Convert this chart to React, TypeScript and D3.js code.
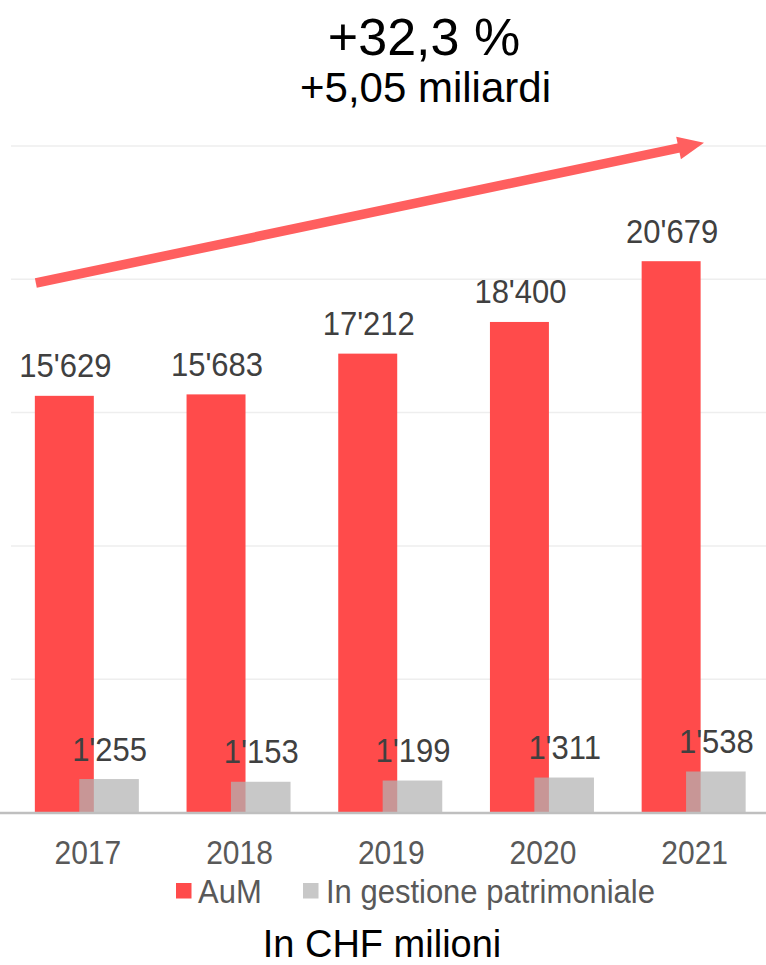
import React from "react";
import * as d3 from "d3";

const years = ["2017", "2018", "2019", "2020", "2021"];
const aum = [15629, 15683, 17212, 18400, 20679];
const gestione = [1255, 1153, 1199, 1311, 1538];
const gridTicks = [0, 5000, 10000, 15000, 20000, 25000];
const seriesNames = ["AuM", "In gestione patrimoniale"];
const titleMain = "+32,3 %";
const titleSub = "+5,05 miliardi";
const footer = "In CHF milioni";

const W = 766;
const H = 965;
const RED = "#ff4b4b";
const GRAY = "#b3b3b3";
const FONT = "'Liberation Sans', Arial, sans-serif";

const locale = d3.formatLocale({ thousands: "'", grouping: [3], decimal: ",", currency: ["", ""] });
const fmt = locale.format(",d");

export default function App() {
  const p = 0.3144;
  const x = d3.scaleBand<string>().domain(years).range([11, 769.5]).paddingInner(p).paddingOuter(p / 2);
  const y = d3.scaleLinear().domain([0, 25000]).range([812.5, 146]);
  const bw = x.bandwidth();
  const redW = bw * 0.567;
  const grayOff = bw * 0.427;
  const grayW = bw * 0.573;

  // arrow geometry
  const x0 = (x(years[0]) as number) + 1;
  const x1 = 704;
  const ay0 = 283;
  const ay1 = 142.7;
  const ang = Math.atan2(ay1 - ay0, x1 - x0);
  const headLen = 26;
  const headHalf = 11.5;
  const bx = x1 - headLen * Math.cos(ang);
  const by = ay1 - headLen * Math.sin(ang);
  const nx = -Math.sin(ang);
  const ny = Math.cos(ang);
  const head = [
    [x1, ay1],
    [bx + nx * headHalf, by + ny * headHalf],
    [bx - nx * headHalf, by - ny * headHalf],
  ];

  return (
    <svg
      width={W}
      height={H}
      style={{ position: "absolute", left: 0, top: 0, display: "block", background: "#fff" }}
      fontFamily={FONT}
    >
      {gridTicks.slice(1).map((t) => (
        <line key={t} x1={11} x2={W} y1={y(t)} y2={y(t)} stroke="#eeeeee" strokeWidth={1.5} />
      ))}

      {years.map((yr, i) => (
        <rect key={"r" + yr} x={x(yr)} y={y(aum[i])} width={redW} height={y(0) - y(aum[i])} fill={RED} />
      ))}
      {years.map((yr, i) => (
        <rect
          key={"g" + yr}
          x={(x(yr) as number) + grayOff}
          y={y(gestione[i])}
          width={grayW}
          height={y(0) - y(gestione[i])}
          fill={GRAY}
          fillOpacity={0.72}
        />
      ))}

      <line x1={0} x2={W} y1={y(0) + 0.5} y2={y(0) + 0.5} stroke="#bfbfbf" strokeWidth={2.5} />

      {years.map((yr, i) => (
        <text
          key={"lr" + yr}
          transform={`translate(${(x(yr) as number) + redW / 2 + 1},${y(aum[i]) - 18.5}) scale(1,1.05)`}
          textAnchor="middle"
          fontSize={31}
          fill="#404040"
        >
          {fmt(aum[i])}
        </text>
      ))}
      {years.map((yr, i) => (
        <text
          key={"lg" + yr}
          transform={`translate(${(x(yr) as number) + grayOff + grayW / 2 + 0.5},${y(gestione[i]) - 18.5}) scale(1,1.05)`}
          textAnchor="middle"
          fontSize={31}
          fill="#404040"
        >
          {fmt(gestione[i])}
        </text>
      ))}

      {years.map((yr) => (
        <text
          key={"y" + yr}
          transform={`translate(${(x(yr) as number) + bw / 2 + 1},864) scale(1,1.08)`}
          textAnchor="middle"
          fontSize={30}
          fill="#595959"
        >
          {yr}
        </text>
      ))}

      <line x1={x0} y1={ay0} x2={bx + 2 * Math.cos(ang)} y2={by + 2 * Math.sin(ang)} stroke="#ff5f5f" strokeWidth={9.5} />
      <polygon points={head.map((d) => d.join(",")).join(" ")} fill="#ff5f5f" />

      <text x={424} y={55} textAnchor="middle" fontSize={52} fill="#000">
        {titleMain}
      </text>
      <text x={425.5} y={102} textAnchor="middle" fontSize={42} fill="#000">
        {titleSub}
      </text>

      <rect x={176} y={883} width={15.5} height={15.5} fill={RED} />
      <text transform="translate(198,903) scale(1,1.05)" fontSize={31} fill="#595959">
        {seriesNames[0]}
      </text>
      <rect x={303} y={883} width={15.5} height={15.5} fill="#c8c8c8" />
      <text transform="translate(326,903) scale(1,1.05)" fontSize={31} fill="#595959">
        {seriesNames[1]}
      </text>

      <text x={382} y={957} textAnchor="middle" fontSize={38} fill="#000">
        {footer}
      </text>
    </svg>
  );
}
